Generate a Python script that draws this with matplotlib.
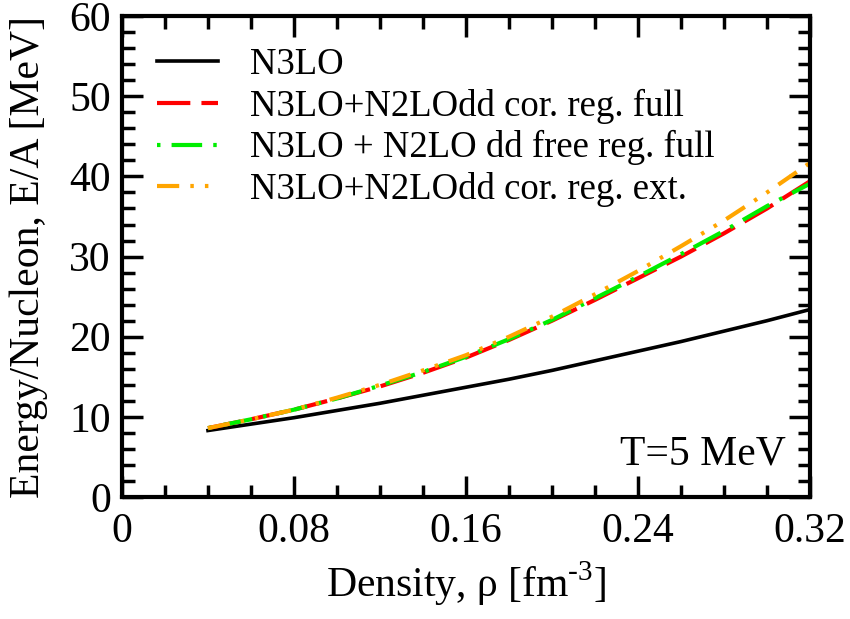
import matplotlib
matplotlib.use("Agg")
import matplotlib.pyplot as plt
from matplotlib.ticker import MultipleLocator

plt.rcParams['font.family'] = ['Liberation Serif', 'DejaVu Serif']
plt.rcParams['mathtext.fontset'] = 'custom'
plt.rcParams['mathtext.rm'] = 'Liberation Serif'
plt.rcParams['lines.scale_dashes'] = False

density = [0.04, 0.06, 0.08, 0.10, 0.12, 0.14, 0.16, 0.18, 0.20, 0.22, 0.24, 0.26, 0.28, 0.30, 0.32]
e_n3lo = [8.3, 9.1, 9.9, 10.8, 11.7, 12.7, 13.7, 14.7, 15.8, 17.0, 18.2, 19.4, 20.7, 22.0, 23.4]
e_cor_full = [8.6, 9.7, 10.9, 12.3, 13.8, 15.5, 17.4, 19.6, 22.0, 24.6, 27.3, 30.0, 32.9, 36.0, 39.4]
e_free_full = [8.6, 9.7, 10.9, 12.3, 13.9, 15.6, 17.5, 19.7, 22.1, 24.8, 27.5, 30.3, 33.2, 36.3, 39.1]
e_cor_ext = [8.6, 9.7, 10.9, 12.4, 14.0, 15.8, 17.7, 20.0, 22.5, 25.3, 28.2, 31.3, 34.5, 38.0, 41.7]

labels = ["N3LO", "N3LO+N2LOdd cor. reg. full", "N3LO + N2LO dd free reg. full", "N3LO+N2LOdd cor. reg. ext."]

fig = plt.figure(figsize=(8.5, 6.19), dpi=100)
ax = fig.add_axes([0.1435, 0.197, 0.8095, 0.777])

ax.plot(density, e_n3lo, color='black', lw=2.6, label=labels[0])
ax.plot(density, e_cor_full, color='#ff0000', lw=3.0, dashes=(24, 8), label=labels[1])
ax.plot(density, e_free_full, color='#00ee00', lw=3.0, dashes=(2.5, 8, 22, 8), label=labels[2])
ax.plot(density, e_cor_ext, color='#ffa500', lw=3.0, dashes=(16, 8, 2.5, 8, 2.5, 8), label=labels[3])

ax.set_xlim(0, 0.32)
ax.set_ylim(0, 60)
ax.xaxis.set_major_locator(MultipleLocator(0.08))
ax.xaxis.set_minor_locator(MultipleLocator(0.02))
ax.yaxis.set_major_locator(MultipleLocator(10))
ax.yaxis.set_minor_locator(MultipleLocator(2))
ax.xaxis.set_major_formatter(plt.FuncFormatter(lambda v, p: "0" if abs(v) < 1e-9 else f"{v:.2f}"))

ax.tick_params(which='both', direction='in', top=True, right=True, width=2.5, labelsize=30)
ax.tick_params(axis='x', pad=11)
ax.tick_params(axis='y', pad=8)
ax.tick_params(which='major', length=15)
ax.tick_params(which='minor', length=9)
for s in ax.spines.values():
    s.set_linewidth(3)

ax.set_xlabel("Density, ρ [fm$^{\\text{-3}}$]", fontsize=30, labelpad=6)
ax.set_ylabel("Energy/Nucleon, E/A [MeV]", fontsize=30)
ax.yaxis.set_label_coords(-0.108, 0.5)

ax.text(0.965, 0.09, "T=5 MeV", transform=ax.transAxes, ha='right', va='center', fontsize=30)

leg = ax.legend(loc='upper left', frameon=False, fontsize=26.5, handlelength=1.66,
                handletextpad=0.87, labelspacing=0.18, borderpad=0, borderaxespad=0,
                bbox_to_anchor=(0.051, 0.935))

fig.savefig("out.png", dpi=100)
